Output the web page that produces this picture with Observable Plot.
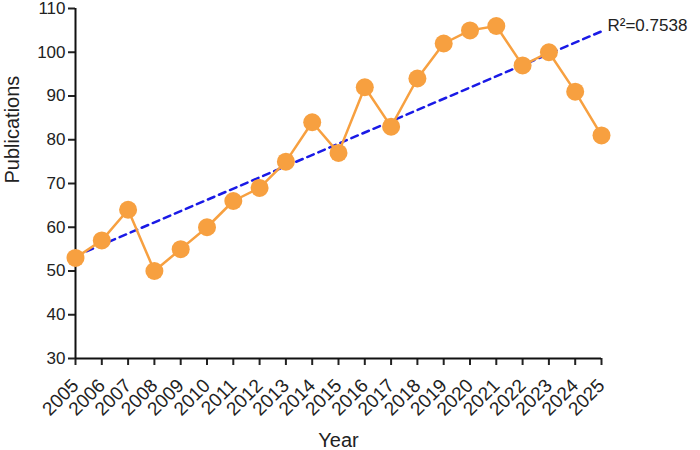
<!DOCTYPE html>
<html><head><meta charset="utf-8">
<script src="https://cdn.jsdelivr.net/npm/d3@7"></script>
<script src="https://cdn.jsdelivr.net/npm/@observablehq/plot@0.6"></script>
<style>body{margin:0;background:#fff;font-family:"Liberation Sans",Arial,sans-serif}</style>
</head><body><div id="chart"></div>
<script>
const years = [2005,2006,2007,2008,2009,2010,2011,2012,2013,2014,2015,2016,2017,2018,2019,2020,2021,2022,2023,2024,2025];
const publications = [53,57,64,50,55,60,66,69,75,84,77,92,83,94,102,105,106,97,100,91,81];
const yTicks = [30,40,50,60,70,80,90,100,110];
const r2Label = "R\u00B2=0.7538";

const data = years.map((y,i)=>({year:y, value:publications[i]}));
const mx = d3.mean(years), my = d3.mean(publications);
const slope = d3.sum(data, d=>(d.year-mx)*(d.value-my))/d3.sum(data, d=>(d.year-mx)**2);
const intercept = my - slope*mx;
const x0 = years[0], x1 = years[years.length-1];
const trend = [{year:x0, value:intercept+slope*x0},{year:x1, value:intercept+slope*x1}];

const chart = Plot.plot({
  width:700, height:450,
  marginLeft:75, marginRight:99, marginTop:8, marginBottom:92,
  style:{fontFamily:"Liberation Sans, Arial, sans-serif", fontSize:"17px", color:"#222"},
  x:{domain:[2005,2025]},
  y:{domain:[30,110]},
  marks:[
    Plot.axisY({ticks:yTicks, tickSize:7, tickPadding:3, strokeWidth:2, label:null, fontSize:17}),
    Plot.axisX({ticks:years, tickSize:7, strokeWidth:2, text:null, label:null}),
    Plot.text(years, {x:d=>d, frameAnchor:"bottom", text:d=>String(d), rotate:-45, textAnchor:"end", lineAnchor:"middle", dy:24, dx:0, fontSize:19, fill:"#222"}),
    Plot.ruleX([2005],{stroke:"#111", strokeWidth:2}),
    Plot.ruleY([30],{stroke:"#111", strokeWidth:2}),
    Plot.line(trend,{x:"year", y:"value", stroke:"#1a1ae6", strokeWidth:2.5, strokeDasharray:"7,5"}),
    Plot.line(data,{x:"year", y:"value", stroke:"#F7A040", strokeWidth:2.5}),
    Plot.dot(data,{x:"year", y:"value", r:9, fill:"#F7A040", stroke:"none"}),
    Plot.text([trend[1]],{x:"year", y:"value", text:()=>r2Label, dx:6, dy:-6, textAnchor:"start", fontSize:17, fill:"#222"}),
    Plot.text(["Year"],{frameAnchor:"bottom", dy:88, text:d=>d, fontSize:20, fill:"#222"}),
    Plot.text(["Publications"],{frameAnchor:"left", dx:-63, rotate:-90, text:d=>d, fontSize:20, fill:"#222"})
  ]
});
document.getElementById("chart").appendChild(chart);
</script></body></html>
